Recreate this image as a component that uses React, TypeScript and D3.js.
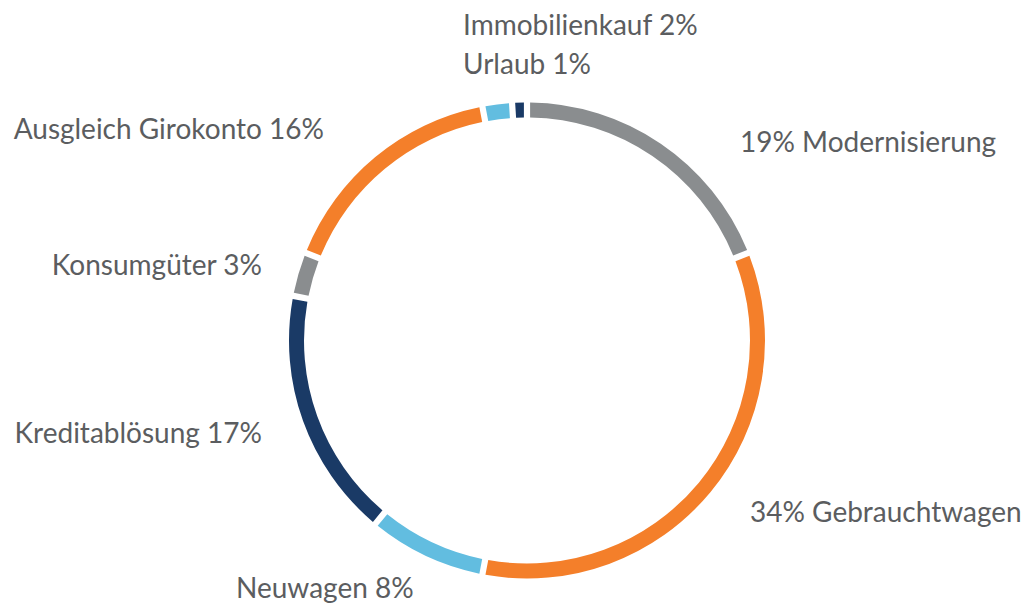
import React, { useEffect, useRef } from 'react';
import * as d3 from 'd3';

const categories = [
  'Modernisierung',
  'Gebrauchtwagen',
  'Neuwagen',
  'Kreditablösung',
  'Konsumgüter',
  'Ausgleich Girokonto',
  'Immobilienkauf',
  'Urlaub',
];
const shares = [19, 34, 8, 17, 3, 16, 2, 1];
const colors = ['#8a8d8f', '#f47f2a', '#62bde0', '#1a3a66', '#8a8d8f', '#f47f2a', '#62bde0', '#1a3a66'];

// label text and where it sits (hand-placed, as in the original)
const labels = [
  { text: '19% Modernisierung', x: 740, y: 152, anchor: 'start' },
  { text: '34% Gebrauchtwagen', x: 750, y: 522, anchor: 'start' },
  { text: 'Neuwagen 8%', x: 236, y: 598, anchor: 'start' },
  { text: 'Kreditablösung 17%', x: 262, y: 443, anchor: 'end' },
  { text: 'Konsumgüter 3%', x: 262, y: 275, anchor: 'end' },
  { text: 'Ausgleich Girokonto 16%', x: 324, y: 139, anchor: 'end' },
  { text: 'Immobilienkauf 2%', x: 463, y: 35, anchor: 'start' },
  { text: 'Urlaub 1%', x: 463, y: 74, anchor: 'start' },
];

interface Slice {
  name: string;
  value: number;
  color: string;
}

const width = 1025;
const height = 606;

const App: React.FC = () => {
  const ref = useRef<SVGSVGElement | null>(null);

  useEffect(() => {
    if (!ref.current) return;
    const svg = d3.select(ref.current);
    svg.selectAll('*').remove();

    const data: Slice[] = categories.map((c, i) => ({ name: c, value: shares[i], color: colors[i] }));

    const cx = 527;
    const cy = 340.5;
    const outer = 238;
    const inner = 223;

    const pie = d3.pie<Slice>().value(d => d.value).sort(null);
    const arc = d3.arc<d3.PieArcDatum<Slice>>()
      .innerRadius(inner)
      .outerRadius(outer)
      .padAngle(0.026)
      .padRadius(outer);

    const g = svg.append('g').attr('transform', `translate(${cx},${cy})`);
    g.selectAll('path')
      .data(pie(data))
      .join('path')
      .attr('fill', d => d.data.color)
      .attr('d', d => arc(d) || '');

    svg.append('g')
      .selectAll('text')
      .data(labels)
      .join('text')
      .attr('x', d => d.x)
      .attr('y', d => d.y)
      .attr('text-anchor', d => d.anchor)
      .style('font-family', 'Lato, "Noto Sans", sans-serif')
      .style('font-size', '28px')
      .attr('fill', '#5b5d60')
      .text(d => d.text);
  }, []);

  return (
    <svg
      ref={ref}
      width={width}
      height={height}
      style={{ position: 'absolute', left: 0, top: 0, display: 'block', background: '#fff' }}
    />
  );
};

export default App;
